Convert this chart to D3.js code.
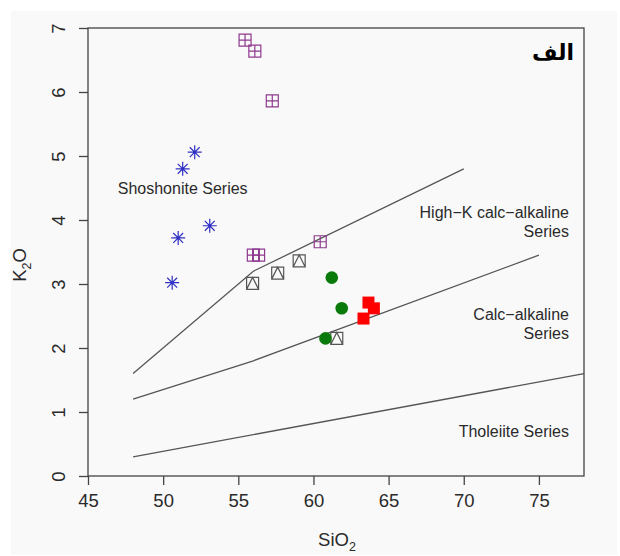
<!DOCTYPE html>
<html><head><meta charset="utf-8">
<script src="https://cdn.jsdelivr.net/npm/d3@7"></script>
<style>body{margin:0;background:#fff}svg{display:block}</style>
</head><body>
<svg id="c" width="620" height="556"></svg>
<script>
// ---- data ----
const xTicks = [45, 50, 55, 60, 65, 70, 75];
const yTicks = [0, 1, 2, 3, 4, 5, 6, 7];
// boundary lines (Peccerillo & Taylor)
const lineShoX = [48, 56, 70];
const lineShoY = [1.6, 3.2, 4.8];
const lineHkX = [48, 56, 75];
const lineHkY = [1.2, 1.8, 3.45];
const lineThX = [48, 78];
const lineThY = [0.3, 1.6];
// samples
const asterSiO2 = [52.1, 51.3, 53.1, 51.0, 50.6];
const asterK2O = [5.06, 4.80, 3.91, 3.72, 3.02];
const sqPlusSiO2 = [55.45, 56.1, 57.26, 56.0, 56.35, 60.45];
const sqPlusK2O = [6.81, 6.64, 5.86, 3.45, 3.45, 3.66];
const sqTriSiO2 = [55.95, 57.62, 59.05, 61.55];
const sqTriK2O = [3.01, 3.17, 3.36, 2.15];
const circSiO2 = [61.22, 61.88, 60.8];
const circK2O = [3.10, 2.62, 2.15];
const redSiO2 = [63.66, 64.02, 63.33];
const redK2O = [2.71, 2.62, 2.46];
const fieldLabels = [
  {lines: ["Shoshonite Series"], x: 51.3, y: 4.48, anchor: "middle"},
  {lines: ["High\u2212K calc\u2212alkaline", "Series"], x: 77.0, y: 4.11, anchor: "end"},
  {lines: ["Calc\u2212alkaline", "Series"], x: 77.0, y: 2.51, anchor: "end"},
  {lines: ["Tholeiite Series"], x: 77.0, y: 0.69, anchor: "end"}
];

// ---- drawing ----
(function () {
const svg = d3.select("#c");
const mL = 88, mR = 584, mT = 28, mB = 476;
const x = d3.scaleLinear().domain([45, 78]).range([mL, mR]);
const y = d3.scaleLinear().domain([0, 7]).range([mB, mT]);
const axisCol = "#444";
const font = "'Liberation Sans', Arial, Helvetica, sans-serif";

svg.append("rect").attr("x", 11).attr("y", 11).attr("width", 606).attr("height", 544).attr("fill", "#f9f9f9");

// boundary lines
const lineGen = d3.line().x(d => x(d[0])).y(d => y(d[1]));
[[lineShoX, lineShoY], [lineHkX, lineHkY], [lineThX, lineThY]].forEach(([xs, ys]) => {
  svg.append("path").datum(xs.map((v, i) => [v, ys[i]]))
    .attr("d", lineGen).attr("fill", "none").attr("stroke", "#555").attr("stroke-width", 1.3);
});

// axes
const xAxis = d3.axisBottom(x).tickValues(xTicks).tickSize(9).tickPadding(9).tickFormat(d3.format("d"));
const gx = svg.append("g").attr("transform", `translate(0,${mB})`).call(xAxis);
gx.select(".domain").remove();
gx.selectAll("line").attr("stroke", axisCol).attr("stroke-width", 1.3);
gx.selectAll("text").attr("font-family", font).attr("font-size", 18.5).attr("fill", "#2a2a2a");

const yAxis = d3.axisLeft(y).tickValues(yTicks).tickSize(9).tickFormat(d3.format("d"));
const gy = svg.append("g").attr("transform", `translate(${mL},0)`).call(yAxis);
gy.select(".domain").remove();
gy.selectAll("line").attr("stroke", axisCol).attr("stroke-width", 1.3);
gy.selectAll("text").attr("font-family", font).attr("font-size", 18.5).attr("fill", "#2a2a2a")
  .attr("x", 0).attr("dy", null).attr("text-anchor", "middle")
  .attr("transform", "translate(-30,0) rotate(-90)").attr("dominant-baseline", "central");

// box
svg.append("rect").attr("x", mL).attr("y", mT).attr("width", mR - mL).attr("height", mB - mT)
  .attr("fill", "none").attr("stroke", axisCol).attr("stroke-width", 1.3);

// axis titles
const sio = svg.append("text").attr("x", 337).attr("y", 546).attr("text-anchor", "middle")
  .attr("font-family", font).attr("font-size", 18.5).attr("fill", "#2a2a2a");
sio.append("tspan").text("SiO");
sio.append("tspan").attr("font-size", 12.5).attr("dy", 5).text("2");
const ko = svg.append("text").attr("transform", "translate(26,265) rotate(-90)").attr("text-anchor", "middle")
  .attr("font-family", font).attr("font-size", 18.5).attr("fill", "#2a2a2a");
ko.append("tspan").text("K");
ko.append("tspan").attr("font-size", 12.5).attr("dy", 5).text("2");
ko.append("tspan").attr("dy", -5).text("O");

// field labels
fieldLabels.forEach(f => {
  const t = svg.append("text").attr("text-anchor", f.anchor).attr("font-family", font)
    .attr("font-size", 16).attr("fill", "#2a2a2a");
  f.lines.forEach((s, i) => {
    t.append("tspan").attr("x", x(f.x)).attr("y", y(f.y) + i * 19 + 5).text(s);
  });
});

// panel tag
svg.append("text").attr("x", 574).attr("y", 60).attr("text-anchor", "end")
  .attr("font-family", "'DejaVu Sans', sans-serif").attr("font-weight", "bold").attr("font-size", 22)
  .attr("fill", "#000").text("الف");

// markers
const pts = (xs, ys) => xs.map((v, i) => [x(v), y(ys[i])]);

const blue = "#2f2fc4";
svg.append("g").selectAll("path").data(pts(asterSiO2, asterK2O)).join("path")
  .attr("d", d => {
    const r = 7, r2 = r * 0.7071;
    return `M${d[0]-r},${d[1]}L${d[0]+r},${d[1]}M${d[0]},${d[1]-r}L${d[0]},${d[1]+r}` +
      `M${d[0]-r2},${d[1]-r2}L${d[0]+r2},${d[1]+r2}M${d[0]-r2},${d[1]+r2}L${d[0]+r2},${d[1]-r2}`;
  })
  .attr("stroke", blue).attr("stroke-width", 1.2).attr("fill", "none");

const purple = "#8e3a8e";
svg.append("g").selectAll("path").data(pts(sqPlusSiO2, sqPlusK2O)).join("path")
  .attr("d", d => {
    const h = 6;
    return `M${d[0]-h},${d[1]-h}h${2*h}v${2*h}h${-2*h}Z` +
      `M${d[0]-h},${d[1]}h${2*h}M${d[0]},${d[1]-h}v${2*h}`;
  })
  .attr("stroke", purple).attr("stroke-width", 1.2).attr("fill", "none");

svg.append("g").selectAll("path").data(pts(sqTriSiO2, sqTriK2O)).join("path")
  .attr("d", d => {
    const h = 6;
    return `M${d[0]-h},${d[1]-h}h${2*h}v${2*h}h${-2*h}Z` +
      `M${d[0]-h},${d[1]+h}L${d[0]},${d[1]-h}L${d[0]+h},${d[1]+h}`;
  })
  .attr("stroke", "#555").attr("stroke-width", 1.2).attr("fill", "none");

svg.append("g").selectAll("circle").data(pts(circSiO2, circK2O)).join("circle")
  .attr("cx", d => d[0]).attr("cy", d => d[1]).attr("r", 6.3).attr("fill", "#0a7a0a");

svg.append("g").selectAll("rect").data(pts(redSiO2, redK2O)).join("rect")
  .attr("x", d => d[0] - 6).attr("y", d => d[1] - 6).attr("width", 12).attr("height", 12).attr("fill", "#ff0000");
})();
</script>
</body></html>
